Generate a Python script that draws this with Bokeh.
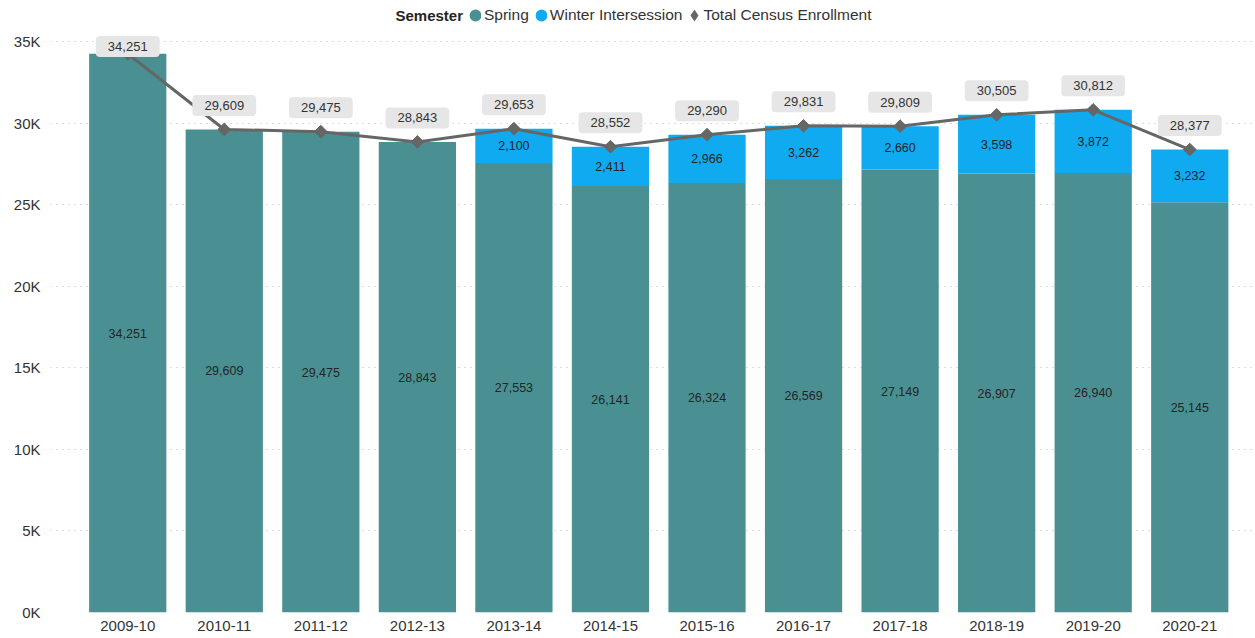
import math
from bokeh.plotting import figure
from bokeh.models import FixedTicker, Legend, LegendItem, Range1d, Label
from bokeh.core.properties import value
from bokeh.embed import file_html
from bokeh.resources import INLINE

categories = ["2009-10", "2010-11", "2011-12", "2012-13", "2013-14", "2014-15",
              "2015-16", "2016-17", "2017-18", "2018-19", "2019-20", "2020-21"]
spring = [34251, 29609, 29475, 28843, 27553, 26141, 26324, 26569, 27149, 26907, 26940, 25145]
winter = [0, 0, 0, 0, 2100, 2411, 2966, 3262, 2660, 3598, 3872, 3232]
total = [34251, 29609, 29475, 28843, 29653, 28552, 29290, 29831, 29809, 30505, 30812, 28377]
y_ticks = [0, 5000, 10000, 15000, 20000, 25000, 30000, 35000]
y_tick_labels = ["0K", "5K", "10K", "15K", "20K", "25K", "30K", "35K"]

SPRING_C = "#4A9093"
WINTER_C = "#0FAAF0"
LINE_C = "#666666"
FONT = "Liberation Sans"

W, H = 1255, 638
FRAME_H = 612          # frame spans the whole canvas top (header drawn inside it)
PX_PER_UNIT = 571.0 / 35000
Y_END = FRAME_H / PX_PER_UNIT
X_START, X_END = -0.8, 11.65

p = figure(width=W, height=H, output_backend="svg", toolbar_location=None,
           x_range=Range1d(X_START, X_END), y_range=Range1d(0, Y_END),
           min_border_left=50, min_border_right=3, min_border_top=0, min_border_bottom=26)
p.outline_line_color = None
p.background_fill_color = "white"

xs = list(range(len(categories)))
stack_top = [s + w for s, w in zip(spring, winter)]

p.vbar(x=xs, bottom=0, top=spring, width=0.8, fill_color=SPRING_C, line_color=None)
p.vbar(x=xs, bottom=spring, top=stack_top, width=0.8, fill_color=WINTER_C, line_color=None)

# labels inside bars
p.text(x=xs, y=[s / 2 for s in spring], text=[f"{s:,}" for s in spring],
       text_font=value(FONT), text_font_size="12.5px", text_color="#252423",
       text_align="center", text_baseline="middle")
wx = [x for x, w in zip(xs, winter) if w > 0]
wy = [s + w / 2 for s, w in zip(spring, winter) if w > 0]
wt = [f"{w:,}" for w in winter if w > 0]
p.text(x=wx, y=wy, text=wt, text_font=value(FONT), text_font_size="12.5px",
       text_color="#252423", text_align="center", text_baseline="middle")

# total line with diamond markers (rotated squares)
p.line(xs, total, line_width=3, line_color=LINE_C)
p.scatter(xs, total, marker="square", size=9, angle=math.pi / 4,
          fill_color=LINE_C, line_color=LINE_C, line_width=1)

# total labels with background boxes
upp = 1.0 / PX_PER_UNIT
top_y = [min(t + 24 * upp, y_ticks[-1] - 5 * upp) for t in total]
p.text(x=xs, y=top_y, text=[f"{t:,}" for t in total], text_font=value(FONT),
       text_font_size="13px", text_color="#333333", text_align="center",
       text_baseline="middle", background_fill_color="#E6E6E6",
       border_radius=4, padding=(12, 6))

# legend dummies (hidden renderers, only used for legend glyphs)
d1 = p.scatter(x=xs[:1], y=spring[:1], marker="circle", size=5, fill_color=SPRING_C,
               line_color=SPRING_C, line_width=7, visible=False)
d2 = p.scatter(x=xs[:1], y=spring[:1], marker="circle", size=5, fill_color=WINTER_C,
               line_color=WINTER_C, line_width=7, visible=False)
d3 = p.scatter(x=xs[:1], y=spring[:1], marker="diamond", size=5,
               fill_color=LINE_C, line_color=LINE_C, line_width=4, line_join="miter",
               visible=False)
legend = Legend(items=[LegendItem(label="Spring", renderers=[d1]),
                       LegendItem(label="Winter Intersession", renderers=[d2]),
                       LegendItem(label="Total Census Enrollment", renderers=[d3])],
                orientation="horizontal", location=(419, FRAME_H - 24),
                label_text_font=FONT, label_text_font_size="15.5px", label_text_color="#333333",
                glyph_width=12, glyph_height=16, label_height=16, label_standoff=3,
                spacing=6, padding=1, margin=0, border_line_color=None,
                background_fill_alpha=0, inactive_fill_alpha=0, click_policy="none")
p.add_layout(legend, "center")

p.add_layout(Label(x=345, y=FRAME_H - 15, x_units="screen", y_units="screen",
                   text="Semester", text_font=FONT, text_font_style="bold",
                   text_font_size="15px", text_color="#252423", text_baseline="middle"))

# axes
p.xaxis.ticker = FixedTicker(ticks=xs)
p.xaxis.major_label_overrides = {i: c for i, c in enumerate(categories)}
p.yaxis.ticker = FixedTicker(ticks=y_ticks)
p.yaxis.major_label_overrides = {t: l for t, l in zip(y_ticks, y_tick_labels)}
for ax in (p.xaxis, p.yaxis):
    ax.axis_line_color = None
    ax.major_tick_line_color = None
    ax.minor_tick_line_color = None
    ax.major_tick_in = 0
    ax.major_tick_out = 0
    ax.major_label_text_font = FONT
    ax.major_label_text_font_size = "15px"
    ax.major_label_text_color = "#333333"
p.xaxis.major_label_standoff = 8
p.yaxis.major_label_standoff = 10

p.xgrid.grid_line_color = None
p.ygrid.grid_line_color = "#BBBBBB"
p.ygrid.grid_line_dash = "1 5"
p.ygrid.grid_line_width = 1

open("out.html", "w").write(file_html(p, INLINE))
